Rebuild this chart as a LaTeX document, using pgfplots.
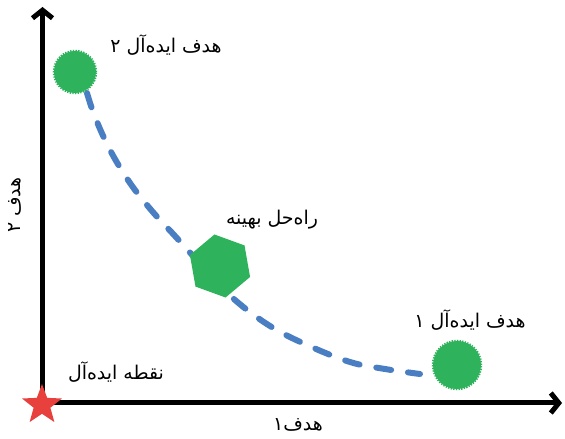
\documentclass[border=0pt]{standalone}
\usepackage{pgfplots}
\pgfplotsset{compat=1.18}
\usepackage{fontspec}
\usetikzlibrary{arrows.meta}
\newfontfamily\arabicfont[Script=Arabic]{DejaVu Sans}
\TeXXeTstate=1
\definecolor{cgreen}{HTML}{2EB35C}
\definecolor{cblue}{HTML}{4A7EC2}
\definecolor{cred}{HTML}{E8403C}
\pgfdeclareplotmark{fstar}{%
  \pgfpathmoveto{\pgfpointpolar{90}{\pgfplotmarksize}}%
  \pgfpathlineto{\pgfpointpolar{126}{0.42\pgfplotmarksize}}%
  \pgfpathlineto{\pgfpointpolar{162}{\pgfplotmarksize}}%
  \pgfpathlineto{\pgfpointpolar{198}{0.42\pgfplotmarksize}}%
  \pgfpathlineto{\pgfpointpolar{234}{\pgfplotmarksize}}%
  \pgfpathlineto{\pgfpointpolar{270}{0.42\pgfplotmarksize}}%
  \pgfpathlineto{\pgfpointpolar{306}{\pgfplotmarksize}}%
  \pgfpathlineto{\pgfpointpolar{342}{0.42\pgfplotmarksize}}%
  \pgfpathlineto{\pgfpointpolar{18}{\pgfplotmarksize}}%
  \pgfpathlineto{\pgfpointpolar{54}{0.42\pgfplotmarksize}}%
  \pgfpathclose\pgfusepathqfill}
\pgfdeclareplotmark{hexa}{%
  \pgfpathmoveto{\pgfpointpolar{40}{\pgfplotmarksize}}%
  \pgfpathlineto{\pgfpointpolar{100}{\pgfplotmarksize}}%
  \pgfpathlineto{\pgfpointpolar{160}{\pgfplotmarksize}}%
  \pgfpathlineto{\pgfpointpolar{220}{\pgfplotmarksize}}%
  \pgfpathlineto{\pgfpointpolar{280}{\pgfplotmarksize}}%
  \pgfpathlineto{\pgfpointpolar{340}{\pgfplotmarksize}}%
  \pgfpathclose\pgfusepathqfill}
\newcommand{\fa}[1]{{\arabicfont\fontsize{19}{22}\selectfont\beginR #1\endR}}
\begin{document}
\begin{tikzpicture}
\begin{axis}[scale only axis, width=565bp, height=439bp,
  xmin=0, xmax=565, ymin=0, ymax=439, hide axis, clip=false]
\path (axis cs:0,0) rectangle (axis cs:565,439);
% axes
\addplot[black, line width=5bp, -{Straight Barb[length=8bp,width=20bp]}] coordinates {(40,36) (562,36)};
\addplot[black, line width=5bp, -{Straight Barb[length=8bp,width=20bp]}] coordinates {(42.5,34) (42.5,432)};
% pareto front
\addplot[cblue, line width=6bp, smooth, tension=0.6, line cap=round, dash pattern=on 15bp off 17bp] coordinates {
 (87,346) (95,322) (110,289) (130,256) (152,228) (175,203) (205,170)
 (235,139) (270,113) (307,94) (350,77) (385,70) (420,65)};
% ideal goals
\addplot[only marks, mark=*, mark size=21bp, mark options={fill=cgreen, draw=cgreen, line width=2.5bp, dash pattern=on 1.3bp off 1.3bp}] coordinates {(75,367)};
\addplot[only marks, mark=*, mark size=24bp, mark options={fill=cgreen, draw=cgreen, line width=2.5bp, dash pattern=on 1.3bp off 1.3bp}] coordinates {(457,74)};
% optimal solution
\addplot[only marks, mark=hexa, mark size=32bp, mark options={fill=cgreen}] coordinates {(220,173)};
% ideal point
\addplot[only marks, mark=fstar, mark size=21bp, mark options={fill=cred}] coordinates {(42,34)};
% labels
\node at (axis cs:166,394) {\fa{هدف ایده‌آل ۲}};
\node at (axis cs:272,219) {\fa{راه‌حل بهینه}};
\node at (axis cs:470,119) {\fa{هدف ایده‌آل ۱}};
\node at (axis cs:116,67) {\fa{نقطه ایده‌آل}};
\node[rotate=90] at (axis cs:15,234) {\fa{هدف ۲}};
\node at (axis cs:298,14) {\fa{هدف۱}};
\end{axis}
\end{tikzpicture}
\end{document}
